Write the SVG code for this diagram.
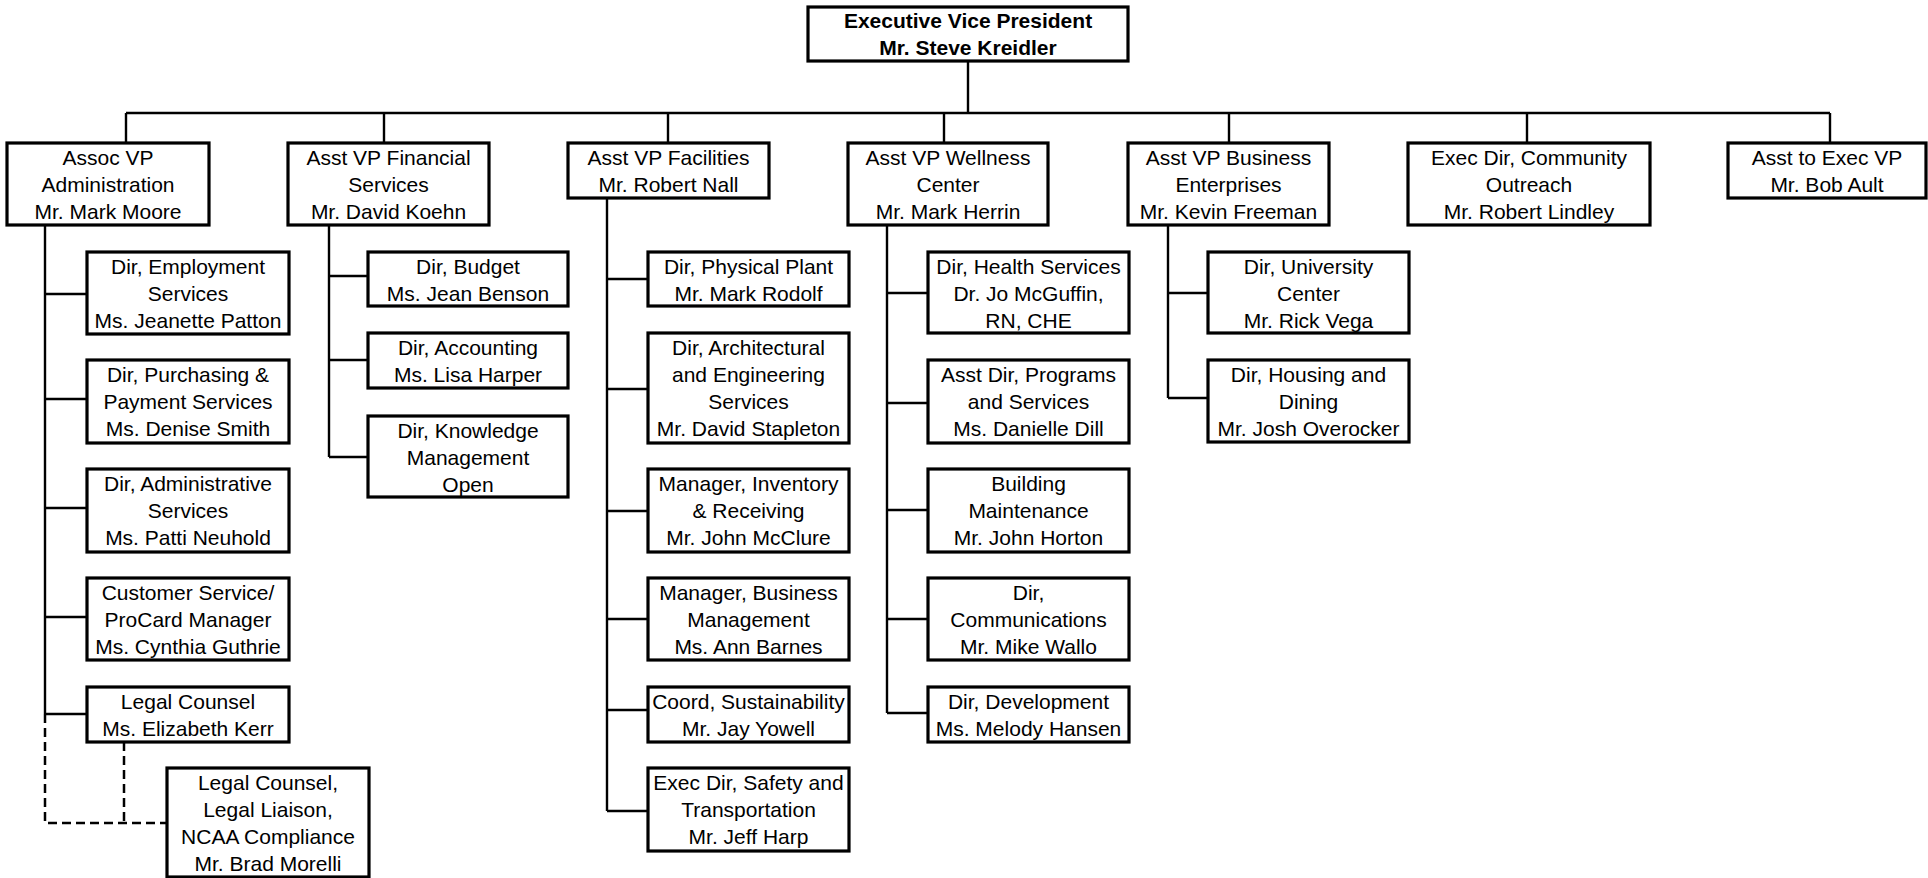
<svg xmlns="http://www.w3.org/2000/svg" width="1928" height="878" viewBox="0 0 1928 878">
<style>
rect.box{fill:#fff;stroke:#000;stroke-width:3.2}
text{font-family:"Liberation Sans",Arial,sans-serif;font-size:21px;fill:#000;text-anchor:middle}
text.b{font-weight:bold}
.c path{fill:none;stroke:#000;stroke-width:2.4}
.c path.d{stroke-dasharray:9,5;stroke-width:2.5}
</style>
<rect width="1928" height="878" fill="#fff"/>
<g class="c" id="connectors">
<path d="M968,61V113M126,113H1830"/>
<path d="M126,113V143M384,113V143M668,113V143M944,113V143M1229,113V143M1527,113V143M1830,113V143"/>
<path d="M45,225V714M45,294H87M45,399H87M45,508H87M45,617H87M45,714H87"/>
<path d="M329,225V457M329,276H368M329,360H368M329,457H368"/>
<path d="M607,198V811M607,279H648M607,389H648M607,511H648M607,619H648M607,710H648M607,811H648"/>
<path d="M887,225V713M887,293H928M887,403H928M887,510H928M887,619H928M887,713H928"/>
<path d="M1168,225V398M1168,293H1208M1168,398H1208"/>
<path class="d" d="M45,714V823H167M124,742V823"/>
</g>
<g id="evp"><rect class="box" x="808" y="7" width="320" height="54"/><text class="b" x="968" y="28">Executive Vice President</text><text class="b" x="968" y="55">Mr. Steve Kreidler</text></g>
<g id="assoc-vp-admin"><rect class="box" x="7" y="143" width="202" height="82"/><text x="108" y="165">Assoc VP</text><text x="108" y="192">Administration</text><text x="108" y="219">Mr. Mark Moore</text></g>
<g id="asst-vp-financial"><rect class="box" x="288" y="143" width="201" height="82"/><text x="388.5" y="165">Asst VP Financial</text><text x="388.5" y="192">Services</text><text x="388.5" y="219">Mr. David Koehn</text></g>
<g id="asst-vp-facilities"><rect class="box" x="568" y="143" width="201" height="55"/><text x="668.5" y="165">Asst VP Facilities</text><text x="668.5" y="192">Mr. Robert Nall</text></g>
<g id="asst-vp-wellness"><rect class="box" x="848" y="143" width="200" height="82"/><text x="948" y="165">Asst VP Wellness</text><text x="948" y="192">Center</text><text x="948" y="219">Mr. Mark Herrin</text></g>
<g id="asst-vp-business"><rect class="box" x="1128" y="143" width="201" height="82"/><text x="1228.5" y="165">Asst VP Business</text><text x="1228.5" y="192">Enterprises</text><text x="1228.5" y="219">Mr. Kevin Freeman</text></g>
<g id="exec-dir-community"><rect class="box" x="1408" y="143" width="242" height="82"/><text x="1529" y="165">Exec Dir, Community</text><text x="1529" y="192">Outreach</text><text x="1529" y="219">Mr. Robert Lindley</text></g>
<g id="asst-to-exec-vp"><rect class="box" x="1728" y="143" width="198" height="55"/><text x="1827" y="165">Asst to Exec VP</text><text x="1827" y="192">Mr. Bob Ault</text></g>

<g id="dir-employment"><rect class="box" x="87" y="252" width="202" height="82"/><text x="188" y="274">Dir, Employment</text><text x="188" y="301">Services</text><text x="188" y="328">Ms. Jeanette Patton</text></g>
<g id="dir-purchasing"><rect class="box" x="87" y="360" width="202" height="83"/><text x="188" y="382">Dir, Purchasing &amp;</text><text x="188" y="409">Payment Services</text><text x="188" y="436">Ms. Denise Smith</text></g>
<g id="dir-administrative"><rect class="box" x="87" y="469" width="202" height="83"/><text x="188" y="491">Dir, Administrative</text><text x="188" y="518">Services</text><text x="188" y="545">Ms. Patti Neuhold</text></g>
<g id="customer-service"><rect class="box" x="87" y="578" width="202" height="82"/><text x="188" y="600">Customer Service/</text><text x="188" y="627">ProCard Manager</text><text x="188" y="654">Ms. Cynthia Guthrie</text></g>
<g id="legal-counsel"><rect class="box" x="87" y="687" width="202" height="55"/><text x="188" y="709">Legal Counsel</text><text x="188" y="736">Ms. Elizabeth Kerr</text></g>
<g id="legal-liaison"><rect class="box" x="167" y="768" width="202" height="109"/><text x="268" y="790">Legal Counsel,</text><text x="268" y="817">Legal Liaison,</text><text x="268" y="844">NCAA Compliance</text><text x="268" y="871">Mr. Brad Morelli</text></g>

<g id="dir-budget"><rect class="box" x="368" y="252" width="200" height="54"/><text x="468" y="274">Dir, Budget</text><text x="468" y="301">Ms. Jean Benson</text></g>
<g id="dir-accounting"><rect class="box" x="368" y="333" width="200" height="55"/><text x="468" y="355">Dir, Accounting</text><text x="468" y="382">Ms. Lisa Harper</text></g>
<g id="dir-knowledge"><rect class="box" x="368" y="416" width="200" height="81"/><text x="468" y="438">Dir, Knowledge</text><text x="468" y="465">Management</text><text x="468" y="492">Open</text></g>

<g id="dir-physical-plant"><rect class="box" x="648" y="252" width="201" height="54"/><text x="748.5" y="274">Dir, Physical Plant</text><text x="748.5" y="301">Mr. Mark Rodolf</text></g>
<g id="dir-architectural"><rect class="box" x="648" y="333" width="201" height="110"/><text x="748.5" y="355">Dir, Architectural</text><text x="748.5" y="382">and Engineering</text><text x="748.5" y="409">Services</text><text x="748.5" y="436">Mr. David Stapleton</text></g>
<g id="mgr-inventory"><rect class="box" x="648" y="469" width="201" height="83"/><text x="748.5" y="491">Manager, Inventory</text><text x="748.5" y="518">&amp; Receiving</text><text x="748.5" y="545">Mr. John McClure</text></g>
<g id="mgr-business"><rect class="box" x="648" y="578" width="201" height="82"/><text x="748.5" y="600">Manager, Business</text><text x="748.5" y="627">Management</text><text x="748.5" y="654">Ms. Ann Barnes</text></g>
<g id="coord-sustainability"><rect class="box" x="648" y="687" width="201" height="55"/><text x="748.5" y="709">Coord, Sustainability</text><text x="748.5" y="736">Mr. Jay Yowell</text></g>
<g id="exec-dir-safety"><rect class="box" x="648" y="768" width="201" height="83"/><text x="748.5" y="790">Exec Dir, Safety and</text><text x="748.5" y="817">Transportation</text><text x="748.5" y="844">Mr. Jeff Harp</text></g>

<g id="dir-health"><rect class="box" x="928" y="252" width="201" height="81"/><text x="1028.5" y="274">Dir, Health Services</text><text x="1028.5" y="301">Dr. Jo McGuffin,</text><text x="1028.5" y="328">RN, CHE</text></g>
<g id="asst-dir-programs"><rect class="box" x="928" y="360" width="201" height="83"/><text x="1028.5" y="382">Asst Dir, Programs</text><text x="1028.5" y="409">and Services</text><text x="1028.5" y="436">Ms. Danielle Dill</text></g>
<g id="building-maintenance"><rect class="box" x="928" y="469" width="201" height="83"/><text x="1028.5" y="491">Building</text><text x="1028.5" y="518">Maintenance</text><text x="1028.5" y="545">Mr. John Horton</text></g>
<g id="dir-communications"><rect class="box" x="928" y="578" width="201" height="82"/><text x="1028.5" y="600">Dir,</text><text x="1028.5" y="627">Communications</text><text x="1028.5" y="654">Mr. Mike Wallo</text></g>
<g id="dir-development"><rect class="box" x="928" y="687" width="201" height="55"/><text x="1028.5" y="709">Dir, Development</text><text x="1028.5" y="736">Ms. Melody Hansen</text></g>

<g id="dir-university-center"><rect class="box" x="1208" y="252" width="201" height="81"/><text x="1308.5" y="274">Dir, University</text><text x="1308.5" y="301">Center</text><text x="1308.5" y="328">Mr. Rick Vega</text></g>
<g id="dir-housing"><rect class="box" x="1208" y="360" width="201" height="82"/><text x="1308.5" y="382">Dir, Housing and</text><text x="1308.5" y="409">Dining</text><text x="1308.5" y="436">Mr. Josh Overocker</text></g>
</svg>
